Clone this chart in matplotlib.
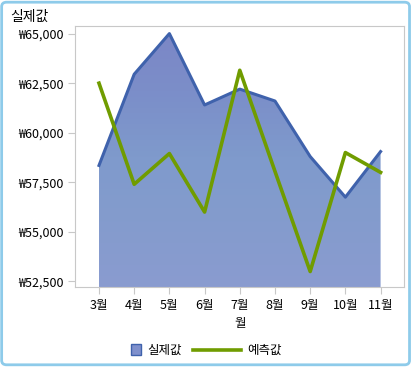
import matplotlib.pyplot as plt
import numpy as np
from matplotlib.patches import Patch, Rectangle, FancyBboxPatch
from matplotlib.lines import Line2D
from matplotlib.legend_handler import HandlerPatch
from matplotlib.colors import LinearSegmentedColormap
from matplotlib.ticker import FuncFormatter

plt.rcParams['font.family'] = ['Noto Sans CJK KR', 'DejaVu Sans']

# data
months = ['3월', '4월', '5월', '6월', '7월', '8월', '9월', '10월', '11월']
actual = [58350, 62950, 65000, 61400, 62200, 61600, 58800, 56750, 59050]
predicted = [62500, 57400, 58950, 56000, 63150, 58050, 53000, 59000, 58000]
yticks = [52500, 55000, 57500, 60000, 62500, 65000]

fig = plt.figure(figsize=(4.12, 3.67), dpi=100)
ax = fig.add_axes([0.183, 0.218, 0.798, 0.711])

x = np.arange(len(months))
line_col = '#3f62ac'
green = '#709c00'
ylo, yhi = 52220, 65380

# area fill with the slight vertical shading of the original
area = ax.fill_between(x, actual, ylo, facecolor='none', linewidth=0, zorder=1)
grad = LinearSegmentedColormap.from_list('g', ['#8a9bd0', '#849ccd', '#7f9acc', '#7b8ec9', '#7c86c6'])
img = ax.imshow(np.linspace(0, 1, 256).reshape(-1, 1), cmap=grad, origin='lower', aspect='auto',
                extent=(x[0], x[-1], ylo, yhi), zorder=1)
img.set_clip_path(area.get_paths()[0], transform=ax.transData)

ax.plot(x, actual, color=line_col, linewidth=2.2, zorder=2)
ax.plot(x, predicted, color=green, linewidth=2.6, zorder=3)

ax.set_xlim(-0.67, 8.67)
ax.set_ylim(ylo, yhi)
ax.set_xticks(x)
ax.set_xticklabels(months)
ax.set_yticks(yticks)
ax.yaxis.set_major_formatter(FuncFormatter(lambda v, p: '₩{:,.0f}'.format(v)))

for s in ax.spines.values():
    s.set_color('#c8c8c8')
ax.tick_params(colors='#c8c8c8', labelcolor='black', labelsize=9, length=5)
ax.set_xlabel('월', fontsize=9, labelpad=4)
fig.text(0.025, 0.955, '실제값', fontsize=10, va='center', ha='left')


# square legend key, pushed to the right end of its handle box
def square(legend, orig_handle, xdescent, ydescent, width, height, fontsize):
    s = 7.5
    return Rectangle((width - s - xdescent, (height - s) / 2 - ydescent), s, s)


handles = [Patch(facecolor='#7f90cc', edgecolor=line_col, linewidth=1),
           Line2D([0], [0], color=green, linewidth=2.6)]
fig.legend(handles, ['실제값', '예측값'], loc='center', bbox_to_anchor=(0.455, 0.045),
           ncol=2, frameon=False, fontsize=9, handlelength=3.8, columnspacing=0.9,
           handletextpad=0.5, handler_map={Patch: HandlerPatch(patch_func=square)})

border = FancyBboxPatch((0.004, 0.006), 0.99, 0.988, boxstyle='round,pad=0,rounding_size=0.012',
                        transform=fig.transFigure, facecolor='none', edgecolor='#8ecbea',
                        linewidth=2, zorder=10)
fig.patches.append(border)

plt.savefig('out.png', dpi=100)
